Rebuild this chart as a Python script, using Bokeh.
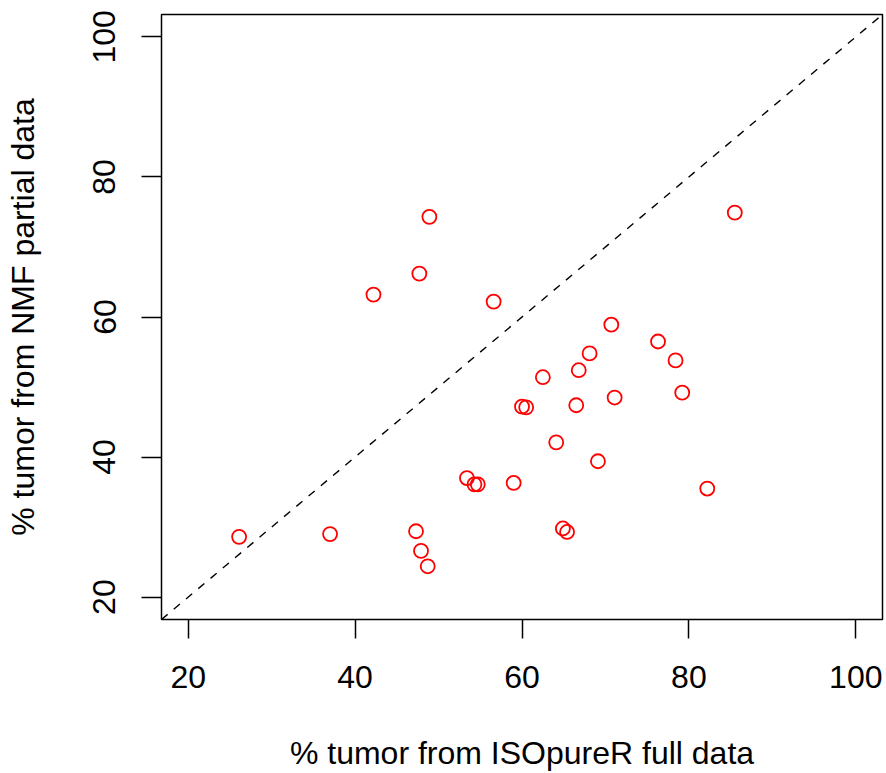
from bokeh.plotting import figure
from bokeh.models import Range1d, FixedTicker, Slope, ColumnDataSource
from bokeh.embed import file_html
from bokeh.resources import INLINE

# ISOpureR full data (% tumor) vs NMF partial data (% tumor)
isopure_full = [26.1, 37.0, 42.2, 47.7, 48.9, 47.3, 47.9, 48.7, 56.6, 53.4,
                54.3, 54.7, 59.0, 60.0, 60.5, 62.5, 64.1, 64.9, 65.4, 66.5,
                66.8, 68.1, 69.1, 70.7, 71.1, 76.3, 78.4, 79.2, 82.2, 85.5]
nmf_partial = [28.6, 29.0, 63.2, 66.2, 74.3, 29.4, 26.6, 24.4, 62.2, 37.0,
               36.1, 36.1, 36.3, 47.2, 47.1, 51.4, 42.1, 29.8, 29.3, 47.4,
               52.4, 54.8, 39.4, 58.9, 48.5, 56.5, 53.8, 49.2, 35.5, 74.9]
tick_values = [20, 40, 60, 80, 100]
x_title = "% tumor from ISOpureR full data"
y_title = "% tumor from NMF partial data"

FONT = "Liberation Sans"
FS = "32px"

p = figure(width=886, height=773, output_backend="svg", toolbar_location=None,
           x_range=Range1d(16.8, 103.2), y_range=Range1d(16.8, 103.2),
           min_border_top=14, min_border_bottom=153, min_border_left=161,
           min_border_right=4)
p.background_fill_color = "white"
p.border_fill_color = "white"
p.outline_line_color = "black"
p.outline_line_width = 1.5
p.xgrid.visible = False
p.ygrid.visible = False

for ax in (p.xaxis[0], p.yaxis[0]):
    ax.ticker = FixedTicker(ticks=tick_values)
    ax.axis_line_color = None
    ax.major_tick_line_color = "black"
    ax.major_tick_line_width = 1.5
    ax.major_tick_in = 0
    ax.minor_tick_line_color = None
    ax.major_label_text_font = FONT
    ax.major_label_text_font_size = FS
    ax.major_label_text_color = "black"
    ax.axis_label_text_font = FONT
    ax.axis_label_text_font_size = FS
    ax.axis_label_text_font_style = "normal"
    ax.axis_label_text_color = "black"

p.xaxis.axis_label = x_title
p.yaxis.axis_label = y_title
p.xaxis.major_tick_out = 19
p.yaxis.major_tick_out = 20
p.xaxis.major_label_standoff = 27
p.xaxis.axis_label_standoff = 44
p.yaxis.major_label_standoff = 26
p.yaxis.axis_label_standoff = 50
p.yaxis.major_label_orientation = "vertical"

p.add_layout(Slope(gradient=1, y_intercept=0, line_color="black",
                   line_width=1.4, line_dash="8 8"))

src = ColumnDataSource(data=dict(x=isopure_full, y=nmf_partial))
p.scatter("x", "y", source=src, marker="circle", size=14,
          fill_color=None, line_color="red", line_width=1.8)

open("out.html", "w").write(file_html(p, INLINE))
